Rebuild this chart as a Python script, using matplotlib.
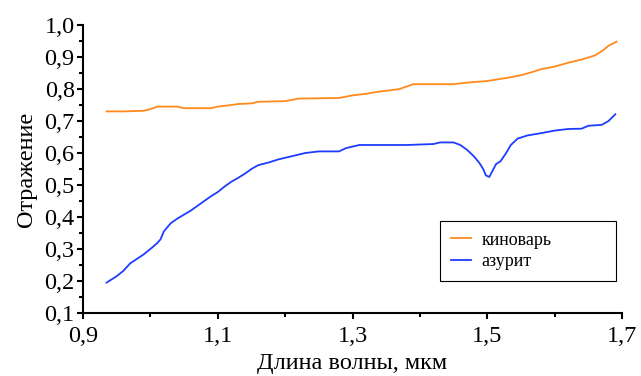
import matplotlib
matplotlib.use('Agg')
import matplotlib.pyplot as plt
from matplotlib.ticker import FixedLocator, FuncFormatter

plt.rcParams['font.family'] = ['Liberation Serif', 'DejaVu Serif']

# киноварь (cinnabar)
x_cin = [0.935, 0.96, 0.99, 1.0, 1.01, 1.02, 1.04, 1.05, 1.07, 1.09, 1.10, 1.12,
         1.13, 1.15, 1.16, 1.20, 1.22, 1.28, 1.30, 1.32, 1.34, 1.36, 1.37, 1.39,
         1.45, 1.47, 1.50, 1.53, 1.55, 1.57, 1.58, 1.60, 1.62, 1.64, 1.66, 1.67,
         1.68, 1.692]
y_cin = [0.73, 0.73, 0.732, 0.737, 0.745, 0.745, 0.745, 0.74, 0.74, 0.74, 0.745, 0.75,
         0.753, 0.755, 0.76, 0.762, 0.77, 0.772, 0.78, 0.785, 0.792, 0.797, 0.80, 0.815,
         0.815, 0.82, 0.825, 0.835, 0.843, 0.855, 0.862, 0.87, 0.882, 0.892, 0.905, 0.918,
         0.935, 0.948]

# азурит (azurite)
x_az = [0.935, 0.95, 0.96, 0.97, 0.975, 0.99, 1.0, 1.01, 1.015, 1.02, 1.03, 1.04,
        1.06, 1.08, 1.09, 1.10, 1.11, 1.12, 1.13, 1.14, 1.15, 1.16, 1.175, 1.19,
        1.21, 1.23, 1.25, 1.28, 1.29, 1.30, 1.31, 1.38, 1.42, 1.43, 1.45, 1.46,
        1.47, 1.48, 1.488, 1.494, 1.498, 1.503, 1.508, 1.513, 1.52, 1.528, 1.535,
        1.545, 1.56, 1.58, 1.60, 1.62, 1.64, 1.65, 1.67, 1.68, 1.69]
y_az = [0.195, 0.215, 0.232, 0.255, 0.262, 0.283, 0.30, 0.318, 0.33, 0.355, 0.38, 0.395,
        0.42, 0.45, 0.465, 0.478, 0.495, 0.51, 0.522, 0.535, 0.55, 0.562, 0.57, 0.58,
        0.59, 0.60, 0.605, 0.605, 0.615, 0.62, 0.625, 0.625, 0.628, 0.633, 0.633, 0.625,
        0.61, 0.59, 0.57, 0.55, 0.53, 0.525, 0.545, 0.565, 0.575, 0.60, 0.625,
        0.645, 0.655, 0.662, 0.67, 0.675, 0.676, 0.685, 0.688, 0.70, 0.721]

x_ticks = [0.9, 1.1, 1.3, 1.5, 1.7]
x_minor = [1.0, 1.2, 1.4, 1.6]
y_ticks = [0.1, 0.2, 0.3, 0.4, 0.5, 0.6, 0.7, 0.8, 0.9, 1.0]
y_minor = [0.15, 0.25, 0.35, 0.45, 0.55, 0.65, 0.75, 0.85, 0.95]

fig = plt.figure(figsize=(6.41, 3.76), dpi=100)
ax = fig.add_axes([83 / 641, 1 - 313 / 376, 539 / 641, 288 / 376])

ax.plot(x_cin, y_cin, color='#ff8a1c', lw=1.3, label='киноварь')
ax.plot(x_az, y_az, color='#1e3cff', lw=1.3, label='азурит')

ax.set_xlim(0.9, 1.7)
ax.set_ylim(0.1, 1.0)
ax.xaxis.set_major_locator(FixedLocator(x_ticks))
ax.xaxis.set_minor_locator(FixedLocator(x_minor))
ax.yaxis.set_major_locator(FixedLocator(y_ticks))
ax.yaxis.set_minor_locator(FixedLocator(y_minor))
comma = FuncFormatter(lambda v, p: f'{v:.1f}'.replace('.', ','))
ax.xaxis.set_major_formatter(comma)
ax.yaxis.set_major_formatter(comma)

for s in ['top', 'right']:
    ax.spines[s].set_visible(False)
for s in ['left', 'bottom']:
    ax.spines[s].set_linewidth(1.5)
ax.tick_params(which='both', direction='out', width=1.5, labelsize=17.5)
ax.tick_params(axis='y', pad=2)
ax.tick_params(axis='x', pad=5)
ax.tick_params(which='major', length=4)
ax.tick_params(which='minor', length=3)

ax.set_xlabel('Длина волны, мкм', fontsize=17.5, labelpad=5)
ax.set_ylabel('Отражение', fontsize=17.5, labelpad=5)

leg = ax.legend(loc='lower left', bbox_to_anchor=(0.662, 0.111, 0.3265, 0.19),
                mode='expand', fontsize=13, fancybox=False, edgecolor='black',
                framealpha=1, handlelength=1.1, handletextpad=0.6,
                borderpad=0.6, borderaxespad=0, labelspacing=0.25)
leg.get_frame().set_linewidth(0.8)

fig.savefig('out.png', dpi=100)
